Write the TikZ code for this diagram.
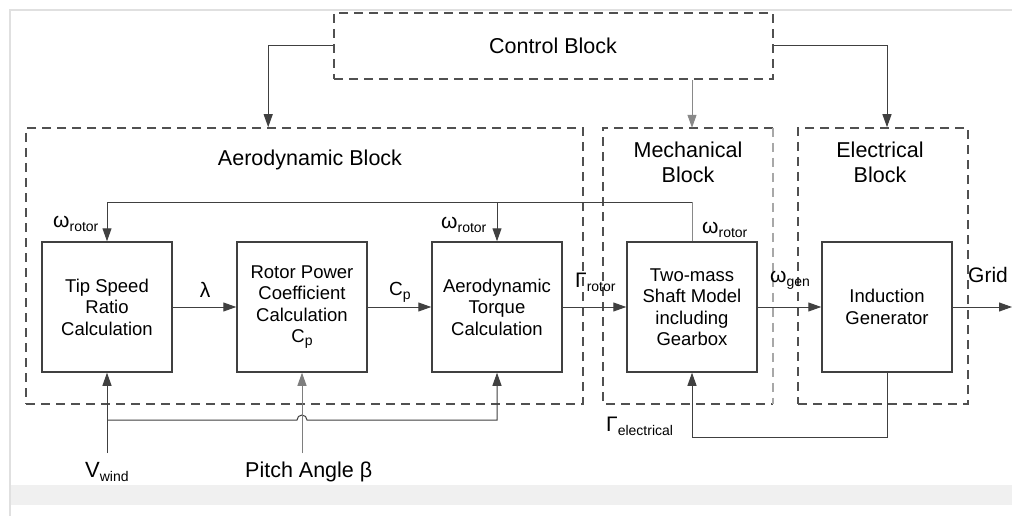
\documentclass[tikz,border=0pt]{standalone}
\usepackage{fontspec}
\setmainfont{Liberation Sans}
\usetikzlibrary{arrows.meta,calc}

% lowered index text (rotor, wind, gen, ...)
\newcommand{\lowidx}[1]{\raisebox{-4pt}{\fontsize{14}{14}\selectfont #1}}

\definecolor{linegray}{HTML}{404040}
\definecolor{dashgray}{HTML}{505050}
\definecolor{palegray}{HTML}{A8A8A8}

\tikzset{
  calcbox/.style={draw=linegray, line width=1.5pt, minimum width=130pt,
    minimum height=130pt, inner sep=0pt, align=center,
    font=\fontsize{18.5}{21.5}\selectfont},
  groupbox/.style={draw=dashgray, line width=1.6pt, dash pattern=on 9pt off 6pt,
    inner sep=0pt},
  grouptitle/.style={align=center, font=\fontsize{21.5}{25}\selectfont},
  sig/.style={font=\fontsize{21}{21}\selectfont, inner sep=0pt},
  wire/.style={draw=linegray, line width=1pt},
  flow/.style={wire, -{Triangle[length=13pt,width=9pt]}},
}

\begin{document}
\begin{tikzpicture}[x=1pt,y=-1pt]
\useasboundingbox (0,0) rectangle (1012,516);

% page frame and footer band
\fill[white] (0,0) rectangle (1012,516);
\fill[black!6] (10,485) rectangle (1012,505);
\draw[black!12, line width=1.5pt] (10,516) -- (10,10) -- (1012,10);

% grouping blocks
\node[groupbox, minimum width=439pt, minimum height=66pt] (ctrl) at (553.5,46) {};
\node[font=\fontsize{21.5}{25}\selectfont] (ctrlt) at (553,46) {Control Block};

\node[groupbox, minimum width=557pt, minimum height=276pt] (aero) at (304.5,266) {};
\node[grouptitle, anchor=base] (aerot) at (310,165) {Aerodynamic Block};

\node[minimum width=170pt, minimum height=276pt, inner sep=0pt] (mech) at (688,266) {};
\draw[groupbox] (mech.north east) -- (mech.north west) -- (mech.south west) -- (mech.south east);
\draw[groupbox, draw=palegray] (mech.north east) -- (mech.south east);
\node[grouptitle] (mecht) at (688,162) {Mechanical\\Block};

\node[groupbox, minimum width=170pt, minimum height=276pt] (elec) at (883,266) {};
\node[grouptitle] (elect) at (880,162) {Electrical\\Block};

% calculation blocks
\node[calcbox] (tsr) at (107,307) {Tip Speed\\Ratio\\Calculation};
\node[calcbox] (rpc) at (302,307) {Rotor Power\\Coefficient\\Calculation\\C\raisebox{-3pt}{\fontsize{14}{14}\selectfont p}};
\node[calcbox] (atc) at (497,307) {Aerodynamic\\Torque\\Calculation};
\node[calcbox] (tms) at (692,307) {Two-mass\\Shaft Model\\including\\Gearbox};
\node[calcbox] (ig)  at (887,307) {Induction\\Generator};

% free ends
\coordinate (grid) at (1012,307);
\coordinate (vw) at (107,453);
\coordinate (pa) at (302,453);
\coordinate (fb) at (692,202);
\coordinate (bus) at (107,420);
\coordinate (ret) at (887,437);

% control connections
\draw[flow] (ctrl.west) -| ([xshift=243pt]aero.north west);
\draw[flow, draw=palegray!70!linegray] (ctrl.south -| tms) -- (mech.north -| tms);
\draw[flow] (ctrl.east) -| (elec.north -| ig);

% forward signal path
\draw[flow] (tsr.east) -- (rpc.west);
\draw[flow] (rpc.east) -- (atc.west);
\draw[flow] (atc.east) -- (tms.west);
\draw[flow] (tms.east) -- (ig.west);
\draw[flow] (ig.east) -- (grid);

% rotor speed feedback
\draw[wire, draw=palegray!70!linegray] (tms.north) -- (fb);
\draw[flow] (fb) -| (tsr.north);
\draw[flow] (atc.north |- fb) -- (atc.north);

% wind speed and pitch inputs
\draw[flow] (vw) -- (tsr.south);
\draw[flow] (bus) -- ($(rpc.south |- bus)+(-5,0)$)
  arc[start angle=180, end angle=0, radius=5pt] -- (atc.south |- bus) -- (atc.south);
\draw[flow, draw=palegray!60!linegray] (pa) -- (rpc.south);

% electrical torque feedback
\draw[flow] (ig.south) -- (ret) -| (tms.south);

% signal labels
\node[sig, anchor=base west] (w1) at (53,227) {ω\lowidx{rotor}};
\node[sig, anchor=base west] (w2) at (441,228) {ω\lowidx{rotor}};
\node[sig, anchor=base west] (w3) at (702,233) {ω\lowidx{rotor}};
\node[sig, anchor=base] (lam) at (205,297) {λ};
\node[sig, anchor=base west, font=\fontsize{19}{19}\selectfont] (cp) at (389,295) {C\lowidx{p}};
\node[sig, anchor=base west] (gr) at (575,287) {Γ\lowidx{rotor}};
\node[sig, anchor=base west] (wg) at (770,282) {ω\lowidx{gen}};
\node[sig, anchor=base west] (gt) at (968,282) {Grid};
\node[sig, anchor=base west] (ge) at (606,431) {Γ\lowidx{electrical}};
\node[sig, anchor=base west, font=\fontsize{22}{22}\selectfont] (vwl) at (85,477) {V\lowidx{wind}};
\node[sig, anchor=base west, font=\fontsize{21.5}{22}\selectfont] (pal) at (245,477) {Pitch Angle β};
\end{tikzpicture}
\end{document}
